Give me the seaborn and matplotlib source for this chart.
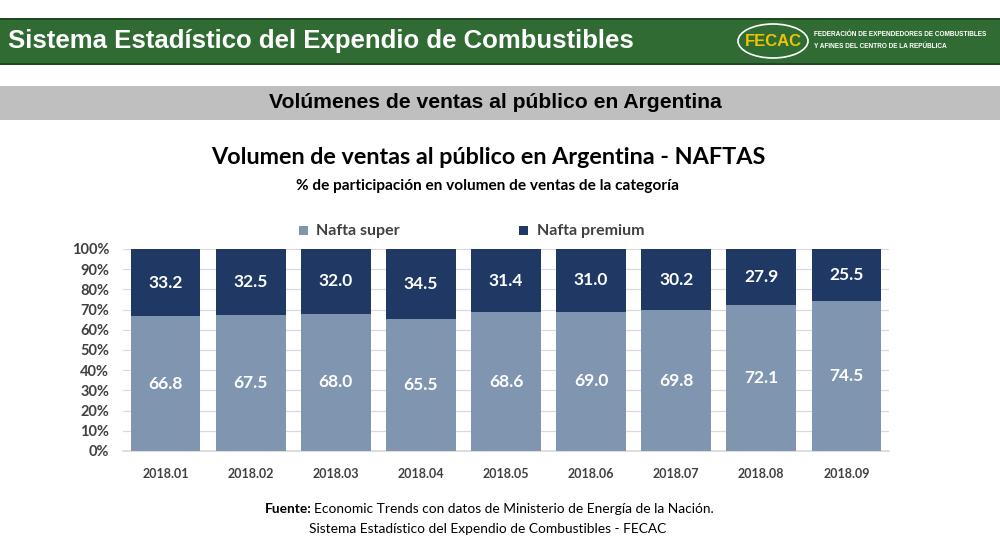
import matplotlib
matplotlib.use("Agg")
import matplotlib.pyplot as plt
import seaborn as sns
import pandas as pd
import numpy as np
from matplotlib.patches import Rectangle, Ellipse

periods = ["2018.01", "2018.02", "2018.03", "2018.04", "2018.05", "2018.06", "2018.07", "2018.08", "2018.09"]
super_vals = [66.8, 67.5, 68.0, 65.5, 68.6, 69.0, 69.8, 72.1, 74.5]
premium_vals = [33.2, 32.5, 32.0, 34.5, 31.4, 31.0, 30.2, 27.9, 25.5]
yticks = [0, 10, 20, 30, 40, 50, 60, 70, 80, 90, 100]
ytick_labels = [f"{v}%" for v in yticks]
series_names = ["Nafta super", "Nafta premium"]

C_SUPER = "#8096b0"
C_PREM = "#1f3864"
GREEN = "#2f6b32"

sns.set_theme(style="white")
plt.rcParams["font.family"] = ["Lato", "DejaVu Sans"]

df = pd.DataFrame({"period": periods, "super": super_vals, "premium": premium_vals})
df["total"] = df["super"] + df["premium"]

fig = plt.figure(figsize=(10, 5.4), dpi=100)
fig.patch.set_facecolor("white")

# Header banner
fig.patches.append(Rectangle((0, 1 - 65/540), 1, 47/540, transform=fig.transFigure,
                             facecolor=GREEN, edgecolor="none", zorder=0))
fig.patches.append(Rectangle((0, 1 - 20/540), 1, 2/540, transform=fig.transFigure,
                             facecolor="#1e4a21", edgecolor="none", zorder=1))
fig.patches.append(Rectangle((0, 1 - 65/540), 1, 2/540, transform=fig.transFigure,
                             facecolor="#1e4a21", edgecolor="none", zorder=1))
fig.text(8/1000, 1 - 41/540, "Sistema Estadístico del Expendio de Combustibles",
         color="white", fontsize=18.5, fontweight="bold", family=["Liberation Sans", "DejaVu Sans"],
         va="center", ha="left")
# Logo
fig.patches.append(Ellipse((773/1000, 1 - 41/540), 70/1000, 34/540, transform=fig.transFigure,
                           facecolor="none", edgecolor="white", lw=1.2, zorder=2))
fig.text(773/1000, 1 - 42/540, "FECAC", color="#f2c400", fontsize=12, fontweight="bold",
         family=["Liberation Sans", "DejaVu Sans"], ha="center", va="center")
fig.text(814/1000, 1 - 35/540, "FEDERACIÓN DE EXPENDEDORES DE COMBUSTIBLES", color="white",
         fontsize=4.7, fontweight="bold", family=["Liberation Sans", "DejaVu Sans"],
         ha="left", va="center")
fig.text(814/1000, 1 - 47/540, "Y AFINES DEL CENTRO DE LA REPÚBLICA", color="white",
         fontsize=4.7, fontweight="bold", family=["Liberation Sans", "DejaVu Sans"],
         ha="left", va="center")

# Gray band
fig.patches.append(Rectangle((0, 1 - 120/540), 1, 34/540, transform=fig.transFigure,
                             facecolor="#bfbfbf", edgecolor="none", zorder=0))
fig.text(495/1000, 1 - 103/540, "Volúmenes de ventas al público en Argentina", color="black",
         fontsize=15.2, fontweight="bold", family=["Liberation Sans", "DejaVu Sans"],
         ha="center", va="center")

# Titles
fig.text(488/1000, 1 - 158/540, "Volumen de ventas al público en Argentina - NAFTAS",
         fontsize=16.8, fontweight="bold", color="black", ha="center", va="center")
fig.text(488/1000, 1 - 186/540, "% de participación en volumen de ventas de la categoría",
         fontsize=11.1, fontweight="bold", color="black", ha="center", va="center")

# Axes
ax = fig.add_axes([123/1000, 1 - 451/540, 766/1000, 202/540])
sns.barplot(data=df, x="period", y="total", color=C_PREM, width=0.82, ax=ax,
            saturation=1, edgecolor="none", zorder=3)
sns.barplot(data=df, x="period", y="super", color=C_SUPER, width=0.82, ax=ax,
            saturation=1, edgecolor="none", zorder=3)

for i, (s, p) in enumerate(zip(super_vals, premium_vals)):
    ax.text(i, s / 2, f"{s:.1f}", color="white", fontsize=12.5, fontweight="bold",
            ha="center", va="center", zorder=5)
    ax.text(i, s + p / 2, f"{p:.1f}", color="white", fontsize=12.5, fontweight="bold",
            ha="center", va="center", zorder=5)

ax.set_ylim(0, 100)
ax.set_xlim(-0.5, len(periods) - 0.5)
ax.set_yticks(yticks)
ax.set_yticklabels(ytick_labels, fontsize=10.5, fontweight="bold", color="#404040")
ax.set_xticks(range(len(periods)))
ax.set_xticklabels(periods, fontsize=9, fontweight="bold", color="#404040")
ax.tick_params(axis="x", pad=12, length=0)
ax.tick_params(axis="y", pad=10, length=0)
ax.grid(axis="y", color="#d9d9d9", lw=0.9, zorder=0)
ax.set_axisbelow(True)
ax.set_xlabel("")
ax.set_ylabel("")
for sp in ["top", "right", "left"]:
    ax.spines[sp].set_visible(False)
ax.spines["bottom"].set_color("#d9d9d9")

# Legend (manual to match placement)
fig.patches.append(Rectangle((299/1000, 1 - 235/540), 9/1000, 9/540, transform=fig.transFigure,
                             facecolor=C_SUPER, edgecolor="none"))
fig.text(316/1000, 1 - 231/540, series_names[0], fontsize=11.5, fontweight="bold",
         color="#404040", ha="left", va="center")
fig.patches.append(Rectangle((519/1000, 1 - 235/540), 9/1000, 9/540, transform=fig.transFigure,
                             facecolor=C_PREM, edgecolor="none"))
fig.text(537/1000, 1 - 231/540, series_names[1], fontsize=11.5, fontweight="bold",
         color="#404040", ha="left", va="center")

# Footer
fig.text(265/1000, 1 - 509/540, "Fuente:", fontsize=9.9, fontweight="bold", color="black",
         ha="left", va="center")
fig.text(314/1000, 1 - 509/540, "Economic Trends con datos de Ministerio de Energía de la Nación.",
         fontsize=9.9, color="black", ha="left", va="center")
fig.text(488/1000, 1 - 529/540, "Sistema Estadístico del Expendio de Combustibles - FECAC",
         fontsize=9.9, color="black", ha="center", va="center")

fig.savefig("out.png", dpi=100, facecolor="white")
